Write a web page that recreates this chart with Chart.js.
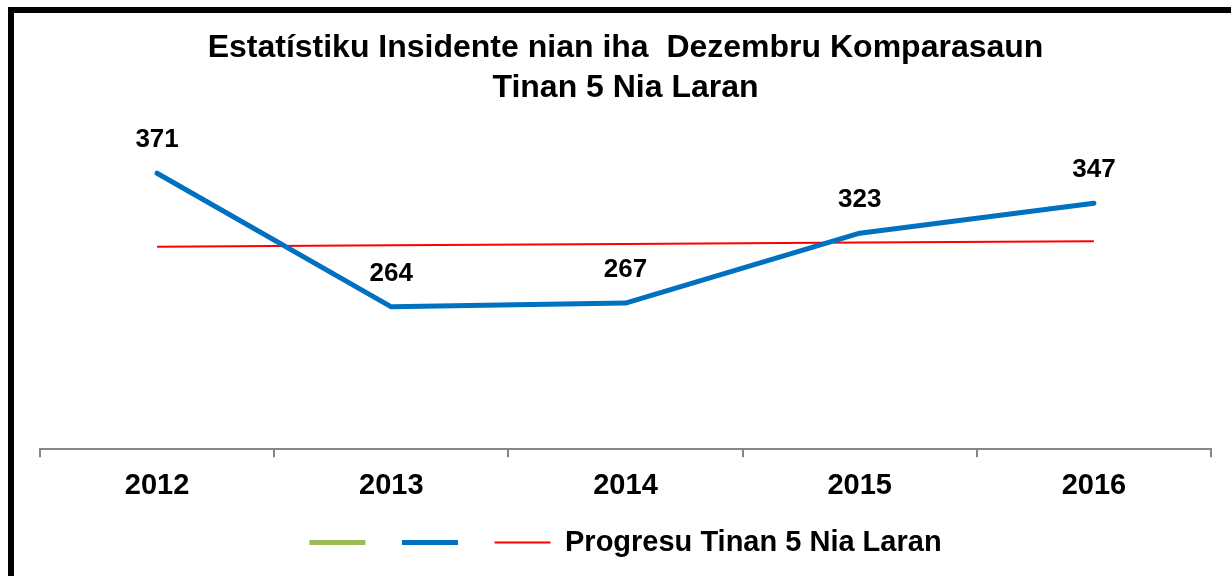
<!DOCTYPE html>
<html>
<head>
<meta charset="utf-8">
<script src="https://cdn.jsdelivr.net/npm/chart.js@4/dist/chart.umd.min.js"></script>
<style>
  html, body { margin: 0; padding: 0; background: #fff; }
  #wrap { position: relative; width: 1231px; height: 576px; overflow: hidden; }
  #frame {
    position: absolute; left: 8px; top: 7px; width: 1400px; height: 800px;
    border: 6px solid #000; pointer-events: none;
  }
  canvas { position: absolute; left: 0; top: 0; }
</style>
</head>
<body>
<div id="wrap">
  <canvas id="incident-chart" width="1231" height="576"></canvas>
  <div id="frame"></div>
</div>
<script>
const years = ['2012', '2013', '2014', '2015', '2016'];
const incidents = [371, 264, 267, 323, 347];
const progress = [312.2, 313.3, 314.4, 315.5, 316.6];
const emptySeries = [null, null, null, null, null];
const titleLines = ['Estatístiku Insidente nian iha  Dezembru Komparasaun', 'Tinan 5 Nia Laran'];
const progressLabel = 'Progresu Tinan 5 Nia Laran';

const fontFamily = '"Liberation Sans", Arial, sans-serif';

// draws the value above each point of the blue line
const valueLabels = {
  id: 'valueLabels',
  afterDatasetsDraw(chart) {
    const ctx = chart.ctx;
    const meta = chart.getDatasetMeta(1);
    ctx.save();
    ctx.font = 'bold 26px ' + fontFamily;
    ctx.fillStyle = '#000';
    ctx.textAlign = 'center';
    ctx.textBaseline = 'middle';
    meta.data.forEach((pt, i) => {
      ctx.fillText(String(incidents[i]), pt.x, pt.y - 33);
    });
    ctx.restore();
  },
};

const incidentChart = new Chart(document.getElementById('incident-chart'), {
  type: 'line',
  data: {
    labels: years,
    datasets: [
      {
        label: ' ',
        data: emptySeries,
        borderColor: '#9BBB59',
        backgroundColor: '#9BBB59',
        borderWidth: 5,
        borderCapStyle: 'round',
        pointRadius: 0,
      },
      {
        label: ' ',
        data: incidents,
        borderColor: '#0070C0',
        backgroundColor: '#0070C0',
        borderWidth: 5,
        borderCapStyle: 'round',
        borderJoinStyle: 'round',
        pointRadius: 0,
        tension: 0,
      },
      {
        label: progressLabel,
        data: progress,
        borderColor: '#FF0000',
        backgroundColor: '#FF0000',
        borderWidth: 2,
        pointRadius: 0,
        tension: 0,
      },
    ],
  },
  options: {
    responsive: false,
    animation: false,
    layout: {
      padding: { left: 40, right: 20, top: 28, bottom: 9 },
    },
    scales: {
      x: {
        offset: true,
        grid: {
          offset: true,
          drawOnChartArea: false,
          drawTicks: true,
          tickLength: 8,
          color: '#868686',
          lineWidth: 2,
        },
        border: { display: true, color: '#868686', width: 2 },
        ticks: {
          padding: 11,
          color: '#000',
          font: { family: fontFamily, size: 29, weight: 'bold' },
        },
      },
      y: {
        display: false,
        min: 150,
        max: 400,
      },
    },
    plugins: {
      title: {
        display: true,
        text: titleLines,
        color: '#000',
        font: { family: fontFamily, size: 32, weight: 'bold', lineHeight: 1.25 },
        padding: { top: 0, bottom: 29 },
      },
      legend: {
        position: 'bottom',
        labels: {
          usePointStyle: true,
          pointStyle: 'line',
          pointStyleWidth: 56,
          padding: 14,
          color: '#000',
          font: { family: fontFamily, size: 29, weight: 'bold' },
        },
      },
      tooltip: { enabled: false },
    },
  },
  plugins: [valueLabels],
});
</script>
</body>
</html>
